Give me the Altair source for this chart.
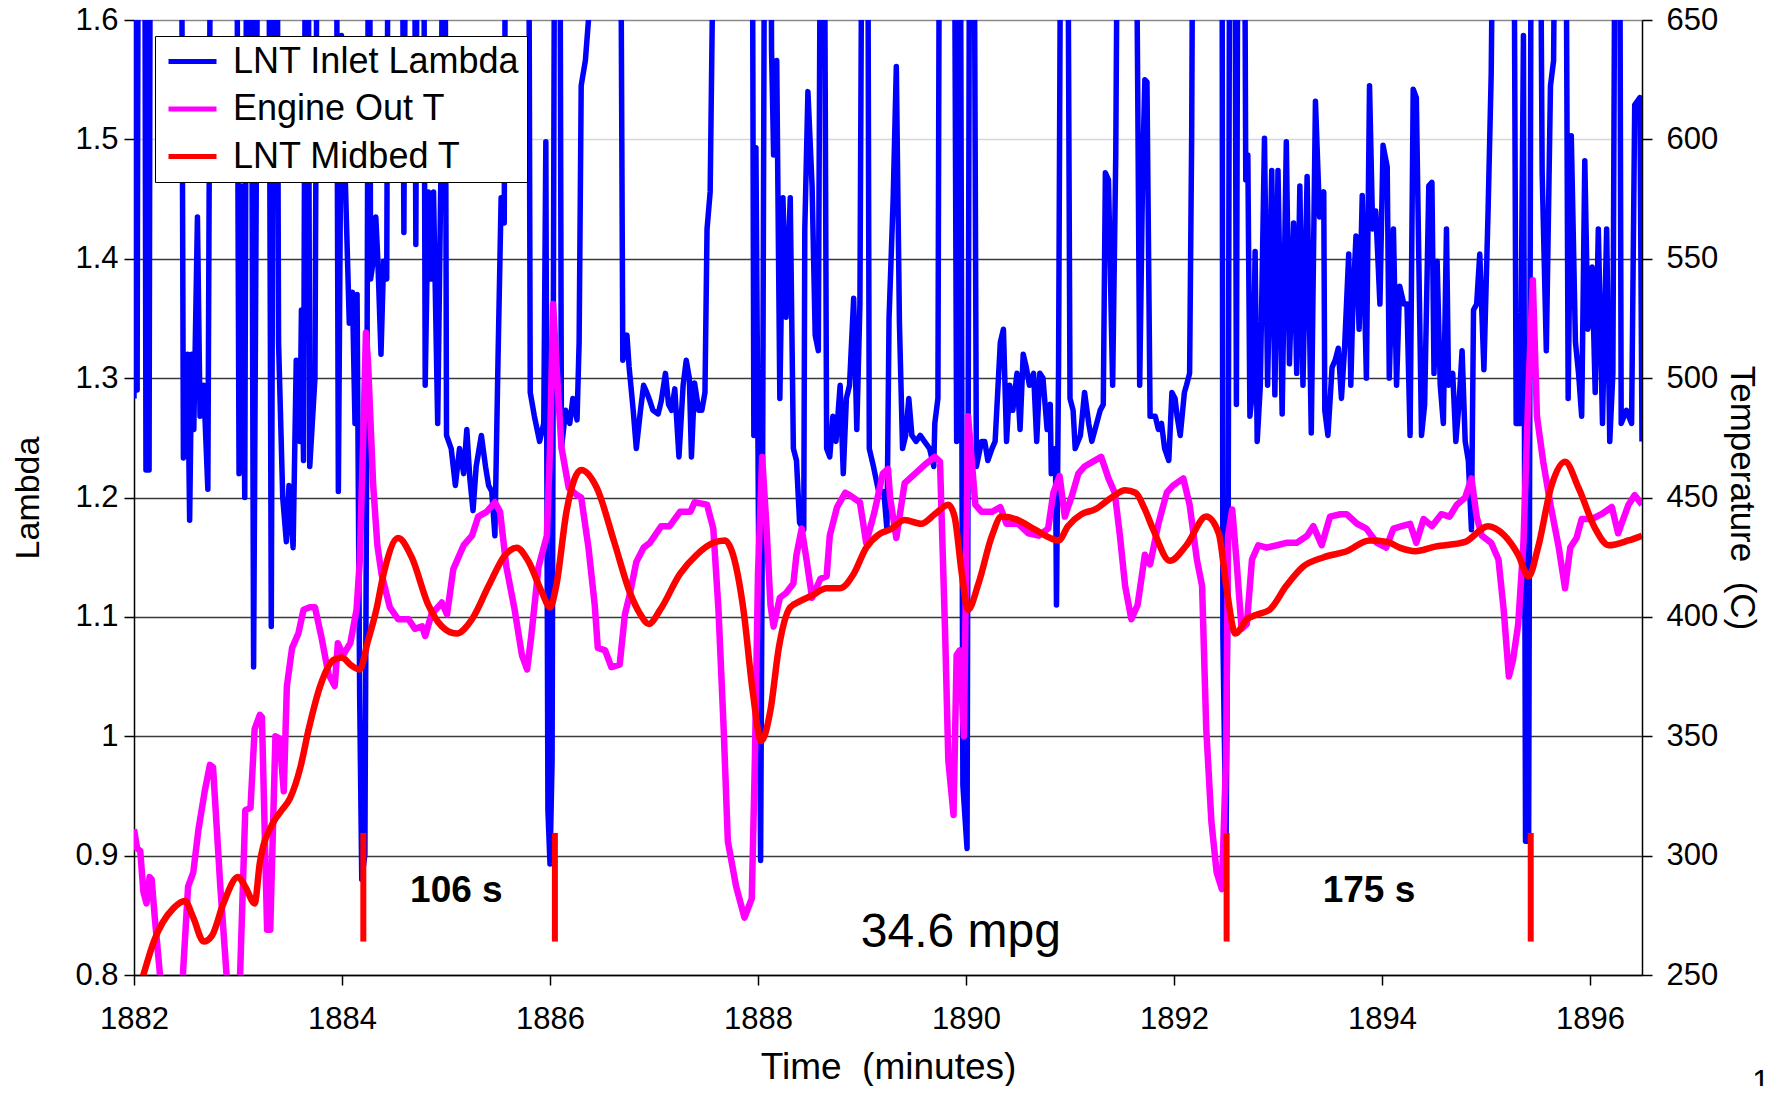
import altair as alt
import pandas as pd

FONT = "Liberation Sans"
SERIES = ["LNT Inlet Lambda", "Engine Out T", "LNT Midbed T"]
COLORS = ["#0000FF", "#FF00FF", "#FF0000"]

x_ticks = [1882, 1884, 1886, 1888, 1890, 1892, 1894, 1896]
lambda_ticks = [0.8, 0.9, 1.0, 1.1, 1.2, 1.3, 1.4, 1.5, 1.6]
temp_ticks = [250, 300, 350, 400, 450, 500, 550, 600, 650]

# LNT inlet lambda (values above 1.6 run off the top of the plot)
lambda_points = [
    (1882.00, 1.283), (1882.015, 1.9), (1882.03, 1.29), (1882.045, 1.9), (1882.10, 1.9),
    (1882.115, 1.223), (1882.145, 1.223), (1882.16, 1.9), (1882.45, 1.9), (1882.475, 1.233),
    (1882.50, 1.247), (1882.515, 1.32), (1882.535, 1.181), (1882.555, 1.32), (1882.575, 1.257),
    (1882.61, 1.435), (1882.635, 1.268), (1882.67, 1.294), (1882.71, 1.207), (1882.745, 1.9),
    (1882.98, 1.9), (1883.01, 1.22), (1883.035, 1.461), (1883.065, 1.2), (1883.09, 1.9),
    (1883.12, 1.9), (1883.15, 1.058), (1883.175, 1.451), (1883.20, 1.9), (1883.29, 1.9),
    (1883.32, 1.092), (1883.35, 1.9), (1883.37, 1.9), (1883.39, 1.33), (1883.43, 1.2),
    (1883.465, 1.163), (1883.49, 1.21), (1883.53, 1.158), (1883.56, 1.315), (1883.595, 1.247),
    (1883.61, 1.357), (1883.63, 1.231), (1883.655, 1.9), (1883.67, 1.9), (1883.69, 1.226),
    (1883.74, 1.3), (1883.77, 1.9), (1883.94, 1.9), (1883.965, 1.205), (1883.995, 1.587),
    (1884.04, 1.44), (1884.07, 1.346), (1884.10, 1.372), (1884.125, 1.262), (1884.145, 1.37),
    (1884.17, 1.032), (1884.19, 0.880), (1884.22, 0.901), (1884.24, 1.283), (1884.26, 1.9),
    (1884.275, 1.383), (1884.30, 1.398), (1884.325, 1.435), (1884.345, 1.398), (1884.375, 1.32),
    (1884.40, 1.398), (1884.43, 1.383), (1884.45, 1.9), (1884.57, 1.9), (1884.595, 1.422),
    (1884.62, 1.9), (1884.69, 1.9), (1884.71, 1.412), (1884.73, 1.9), (1884.78, 1.9),
    (1884.80, 1.294), (1884.83, 1.456), (1884.855, 1.383), (1884.88, 1.456), (1884.92, 1.262),
    (1884.95, 1.466), (1884.985, 1.9), (1885.005, 1.252), (1885.05, 1.241), (1885.09, 1.21),
    (1885.13, 1.241), (1885.17, 1.22), (1885.20, 1.257), (1885.23, 1.215), (1885.26, 1.189),
    (1885.29, 1.226), (1885.34, 1.252), (1885.38, 1.226), (1885.41, 1.21), (1885.44, 1.205),
    (1885.47, 1.168), (1885.50, 1.315), (1885.53, 1.451), (1885.56, 1.43), (1885.58, 1.9),
    (1885.79, 1.9), (1885.81, 1.288), (1885.85, 1.268), (1885.90, 1.247), (1885.94, 1.262),
    (1885.96, 1.498), (1885.98, 0.938), (1886.00, 0.893), (1886.02, 0.979), (1886.05, 1.9),
    (1886.09, 1.9), (1886.11, 1.241), (1886.15, 1.273), (1886.19, 1.262), (1886.22, 1.283),
    (1886.26, 1.265), (1886.28, 1.330), (1886.30, 1.545), (1886.34, 1.566), (1886.37, 1.6),
    (1886.38, 1.9), (1886.67, 1.9), (1886.70, 1.315), (1886.74, 1.336), (1886.76, 1.31),
    (1886.80, 1.273), (1886.83, 1.241), (1886.87, 1.273), (1886.90, 1.294), (1886.93, 1.288),
    (1886.96, 1.281), (1886.99, 1.273), (1887.04, 1.27), (1887.07, 1.281), (1887.11, 1.304),
    (1887.14, 1.278), (1887.17, 1.273), (1887.20, 1.291), (1887.24, 1.234), (1887.28, 1.294),
    (1887.31, 1.315), (1887.34, 1.3), (1887.36, 1.234), (1887.39, 1.296), (1887.43, 1.273),
    (1887.46, 1.273), (1887.49, 1.288), (1887.51, 1.425), (1887.54, 1.456), (1887.56, 1.6),
    (1887.57, 1.9), (1887.94, 1.9), (1887.96, 1.252), (1887.98, 1.493), (1888.00, 1.241),
    (1888.025, 0.896), (1888.045, 1.241), (1888.07, 1.9), (1888.12, 1.9), (1888.13, 1.576),
    (1888.15, 1.487), (1888.18, 1.566), (1888.21, 1.283), (1888.24, 1.451), (1888.27, 1.351),
    (1888.31, 1.451), (1888.34, 1.241), (1888.37, 1.231), (1888.40, 1.179), (1888.44, 1.173),
    (1888.45, 1.425), (1888.48, 1.54), (1888.52, 1.461), (1888.55, 1.336), (1888.58, 1.323),
    (1888.61, 1.9), (1888.63, 1.9), (1888.66, 1.241), (1888.69, 1.234), (1888.72, 1.268),
    (1888.75, 1.247), (1888.79, 1.294), (1888.82, 1.22), (1888.85, 1.283), (1888.88, 1.294),
    (1888.92, 1.367), (1888.95, 1.257), (1888.98, 1.362), (1889.01, 1.9), (1889.05, 1.9),
    (1889.07, 1.241), (1889.11, 1.226), (1889.16, 1.205), (1889.21, 1.205), (1889.24, 1.173),
    (1889.26, 1.35), (1889.30, 1.451), (1889.33, 1.561), (1889.36, 1.346), (1889.39, 1.241),
    (1889.42, 1.252), (1889.45, 1.283), (1889.48, 1.252), (1889.52, 1.247), (1889.56, 1.252),
    (1889.60, 1.247), (1889.65, 1.241), (1889.69, 1.226), (1889.70, 1.262), (1889.73, 1.283),
    (1889.75, 1.9), (1889.88, 1.9), (1889.91, 1.247), (1889.94, 1.9), (1889.97, 0.959),
    (1890.01, 0.906), (1890.04, 1.9), (1890.07, 1.9), (1890.10, 1.226), (1890.15, 1.247),
    (1890.18, 1.247), (1890.21, 1.231), (1890.25, 1.241), (1890.28, 1.247), (1890.33, 1.33),
    (1890.36, 1.341), (1890.39, 1.247), (1890.42, 1.294), (1890.45, 1.273), (1890.49, 1.304),
    (1890.52, 1.257), (1890.55, 1.32), (1890.58, 1.309), (1890.61, 1.294), (1890.65, 1.304),
    (1890.68, 1.247), (1890.71, 1.304), (1890.74, 1.3), (1890.78, 1.257), (1890.81, 1.278),
    (1890.82, 1.22), (1890.86, 1.241), (1890.87, 1.11), (1890.89, 1.309), (1890.92, 1.9),
    (1890.97, 1.9), (1891.00, 1.283), (1891.03, 1.273), (1891.05, 1.241), (1891.10, 1.252),
    (1891.14, 1.288), (1891.18, 1.262), (1891.21, 1.247), (1891.25, 1.26), (1891.29, 1.273),
    (1891.32, 1.278), (1891.34, 1.472), (1891.37, 1.466), (1891.41, 1.294), (1891.44, 1.487),
    (1891.47, 1.9), (1891.62, 1.9), (1891.65, 1.555), (1891.67, 1.294), (1891.70, 1.48),
    (1891.72, 1.55), (1891.74, 1.548), (1891.77, 1.268), (1891.82, 1.268), (1891.85, 1.257),
    (1891.88, 1.262), (1891.91, 1.241), (1891.95, 1.231), (1891.98, 1.288), (1892.01, 1.283),
    (1892.03, 1.268), (1892.06, 1.252), (1892.10, 1.288), (1892.12, 1.294), (1892.15, 1.304),
    (1892.17, 1.503), (1892.19, 1.9), (1892.46, 1.9), (1892.47, 1.084), (1892.50, 0.906),
    (1892.52, 1.137), (1892.54, 1.9), (1892.58, 1.9), (1892.60, 1.278), (1892.62, 1.9),
    (1892.67, 1.9), (1892.69, 1.466), (1892.71, 1.487), (1892.73, 1.268), (1892.76, 1.294),
    (1892.78, 1.406), (1892.80, 1.247), (1892.83, 1.294), (1892.87, 1.501), (1892.90, 1.294),
    (1892.94, 1.474), (1892.97, 1.286), (1893.00, 1.474), (1893.04, 1.27), (1893.08, 1.498),
    (1893.11, 1.312), (1893.15, 1.43), (1893.18, 1.304), (1893.21, 1.461), (1893.24, 1.294),
    (1893.28, 1.469), (1893.32, 1.254), (1893.36, 1.532), (1893.40, 1.435), (1893.44, 1.456),
    (1893.45, 1.273), (1893.48, 1.252), (1893.52, 1.309), (1893.55, 1.315), (1893.58, 1.325),
    (1893.61, 1.283), (1893.64, 1.325), (1893.68, 1.404), (1893.70, 1.294), (1893.72, 1.362),
    (1893.75, 1.419), (1893.78, 1.341), (1893.81, 1.453), (1893.85, 1.3), (1893.88, 1.545),
    (1893.91, 1.425), (1893.94, 1.44), (1893.98, 1.362), (1894.01, 1.495), (1894.05, 1.477),
    (1894.07, 1.3), (1894.11, 1.425), (1894.14, 1.294), (1894.17, 1.377), (1894.21, 1.362),
    (1894.24, 1.362), (1894.27, 1.252), (1894.30, 1.542), (1894.33, 1.535), (1894.38, 1.252),
    (1894.41, 1.278), (1894.45, 1.461), (1894.48, 1.464), (1894.50, 1.304), (1894.53, 1.398),
    (1894.56, 1.294), (1894.59, 1.262), (1894.62, 1.425), (1894.64, 1.294), (1894.68, 1.304),
    (1894.71, 1.247), (1894.74, 1.278), (1894.77, 1.323), (1894.80, 1.247), (1894.83, 1.231),
    (1894.86, 1.173), (1894.88, 1.357), (1894.91, 1.362), (1894.94, 1.404), (1894.98, 1.307),
    (1895.02, 1.44), (1895.05, 1.555), (1895.09, 1.9), (1895.26, 1.9), (1895.29, 1.262),
    (1895.33, 1.262), (1895.36, 1.587), (1895.38, 0.912), (1895.41, 0.912), (1895.44, 1.9),
    (1895.51, 1.9), (1895.54, 1.472), (1895.58, 1.323), (1895.62, 1.545), (1895.65, 1.566),
    (1895.68, 1.9), (1895.76, 1.9), (1895.79, 1.283), (1895.82, 1.503), (1895.86, 1.33),
    (1895.89, 1.304), (1895.92, 1.268), (1895.95, 1.482), (1895.98, 1.341), (1896.02, 1.393),
    (1896.05, 1.288), (1896.08, 1.425), (1896.12, 1.262), (1896.16, 1.425), (1896.19, 1.247),
    (1896.22, 1.304), (1896.25, 1.9), (1896.28, 1.9), (1896.30, 1.262), (1896.35, 1.273),
    (1896.40, 1.262), (1896.43, 1.529), (1896.48, 1.535), (1896.50, 1.247),
]

# Engine out temperature (C)
engine_points = [
    (1882.00, 311), (1882.03, 303), (1882.06, 302), (1882.09, 285), (1882.12, 280),
    (1882.15, 291), (1882.17, 290), (1882.20, 274), (1882.25, 250), (1882.30, 225),
    (1882.42, 225), (1882.47, 250), (1882.52, 287), (1882.57, 293), (1882.62, 311),
    (1882.68, 327), (1882.73, 338), (1882.76, 337), (1882.83, 287), (1882.89, 250),
    (1882.93, 230), (1882.98, 230), (1883.02, 250), (1883.07, 319), (1883.12, 320),
    (1883.16, 353), (1883.21, 359), (1883.23, 358), (1883.28, 269), (1883.31, 269),
    (1883.36, 350), (1883.40, 349), (1883.44, 327), (1883.47, 371), (1883.52, 387),
    (1883.58, 393), (1883.63, 403), (1883.69, 404), (1883.74, 404), (1883.80, 392),
    (1883.87, 376), (1883.93, 371), (1883.96, 389), (1884.01, 384), (1884.08, 389),
    (1884.14, 403), (1884.17, 423), (1884.21, 484), (1884.23, 519), (1884.25, 507),
    (1884.30, 455), (1884.34, 430), (1884.38, 418), (1884.46, 404), (1884.54, 399),
    (1884.64, 399), (1884.70, 395), (1884.77, 396), (1884.80, 392), (1884.86, 401),
    (1884.96, 406), (1885.01, 401), (1885.07, 420), (1885.17, 430), (1885.25, 434),
    (1885.31, 442), (1885.39, 444), (1885.47, 448), (1885.52, 444), (1885.58, 421),
    (1885.66, 403), (1885.73, 384), (1885.78, 378), (1885.82, 392), (1885.89, 421),
    (1885.97, 434), (1886.00, 471), (1886.03, 531), (1886.06, 507), (1886.11, 471),
    (1886.18, 454), (1886.26, 451), (1886.30, 450), (1886.37, 429), (1886.43, 405),
    (1886.46, 387), (1886.53, 386), (1886.59, 379), (1886.67, 380), (1886.72, 401),
    (1886.77, 410), (1886.83, 423), (1886.90, 429), (1886.96, 431), (1887.07, 438),
    (1887.15, 438), (1887.25, 444), (1887.35, 444), (1887.39, 448), (1887.51, 447),
    (1887.57, 437), (1887.62, 403), (1887.67, 353), (1887.71, 306), (1887.79, 287),
    (1887.87, 274), (1887.94, 282), (1887.97, 340), (1888.00, 418), (1888.04, 467),
    (1888.08, 439), (1888.12, 405), (1888.15, 396), (1888.21, 408), (1888.27, 410),
    (1888.34, 414), (1888.37, 426), (1888.42, 437), (1888.47, 423), (1888.52, 408),
    (1888.60, 416), (1888.66, 417), (1888.69, 434), (1888.76, 446), (1888.84, 452),
    (1888.88, 451), (1888.98, 448), (1889.04, 431), (1889.12, 444), (1889.20, 460),
    (1889.25, 462), (1889.27, 450), (1889.33, 433), (1889.41, 456), (1889.51, 460),
    (1889.61, 464), (1889.70, 467), (1889.75, 465), (1889.80, 392), (1889.83, 340),
    (1889.88, 317), (1889.91, 384), (1889.94, 386), (1889.98, 350), (1890.02, 484),
    (1890.09, 447), (1890.15, 444), (1890.25, 444), (1890.33, 446), (1890.39, 439),
    (1890.50, 439), (1890.60, 435), (1890.70, 434), (1890.79, 437), (1890.84, 452),
    (1890.90, 459), (1890.95, 442), (1891.02, 451), (1891.08, 460), (1891.14, 463),
    (1891.22, 465), (1891.30, 467), (1891.37, 458), (1891.43, 452), (1891.48, 434),
    (1891.53, 413), (1891.59, 399), (1891.65, 405), (1891.72, 426), (1891.77, 422),
    (1891.85, 439), (1891.93, 452), (1891.99, 455), (1892.09, 458), (1892.15, 447),
    (1892.22, 424), (1892.27, 413), (1892.31, 353), (1892.36, 314), (1892.41, 293),
    (1892.46, 286), (1892.50, 340), (1892.52, 434), (1892.56, 445), (1892.60, 424),
    (1892.65, 395), (1892.70, 397), (1892.75, 424), (1892.81, 430), (1892.89, 429),
    (1892.99, 430), (1893.08, 431), (1893.18, 431), (1893.28, 434), (1893.34, 438),
    (1893.42, 430), (1893.50, 442), (1893.60, 443), (1893.66, 443), (1893.76, 439),
    (1893.85, 437), (1893.95, 431), (1894.04, 429), (1894.11, 437), (1894.19, 438),
    (1894.27, 439), (1894.33, 431), (1894.40, 441), (1894.48, 438), (1894.57, 443),
    (1894.65, 442), (1894.72, 447), (1894.80, 450), (1894.86, 458), (1894.91, 442),
    (1894.96, 434), (1895.05, 431), (1895.12, 424), (1895.17, 403), (1895.22, 375),
    (1895.26, 382), (1895.31, 397), (1895.36, 431), (1895.41, 497), (1895.45, 541),
    (1895.49, 484), (1895.55, 465), (1895.62, 447), (1895.70, 429), (1895.76, 412),
    (1895.81, 429), (1895.87, 433), (1895.92, 441), (1896.02, 441), (1896.11, 443),
    (1896.21, 446), (1896.27, 435), (1896.37, 447), (1896.43, 451), (1896.50, 447),
]

# LNT midbed temperature (C)
midbed_points = [
    (1882.00, 237), (1882.09, 250), (1882.19, 264), (1882.38, 278), (1882.49, 281),
    (1882.57, 274), (1882.67, 264), (1882.75, 266.5), (1882.86, 280), (1883.00, 291),
    (1883.07, 287), (1883.16, 280), (1883.21, 297), (1883.34, 314), (1883.42, 319),
    (1883.50, 324), (1883.60, 337), (1883.68, 353), (1883.79, 371), (1883.92, 382),
    (1884.00, 383), (1884.08, 380), (1884.17, 378), (1884.25, 390), (1884.33, 403),
    (1884.40, 418), (1884.54, 433), (1884.67, 425), (1884.83, 405), (1884.96, 396),
    (1885.10, 393), (1885.25, 399), (1885.41, 413), (1885.57, 426), (1885.68, 429),
    (1885.79, 423.5), (1885.92, 410.5), (1886.00, 404), (1886.06, 413), (1886.16, 444.5),
    (1886.30, 461.5), (1886.45, 454), (1886.62, 431), (1886.77, 410), (1886.87, 401),
    (1886.95, 397), (1887.06, 403), (1887.25, 418), (1887.41, 426), (1887.57, 431),
    (1887.68, 432), (1887.76, 426), (1887.86, 403), (1887.95, 368.5), (1888.03, 348),
    (1888.12, 361), (1888.20, 387), (1888.31, 404), (1888.40, 406.5), (1888.52, 409),
    (1888.66, 412), (1888.79, 412), (1888.92, 418), (1889.04, 429), (1889.16, 434.5),
    (1889.27, 436.6), (1889.41, 440.6), (1889.57, 439), (1889.70, 443), (1889.83, 447),
    (1889.89, 442), (1889.96, 418), (1890.02, 403), (1890.12, 414), (1890.25, 434),
    (1890.34, 442), (1890.50, 440.6), (1890.66, 436.6), (1890.89, 432), (1890.98, 438),
    (1891.11, 443), (1891.24, 445), (1891.40, 450), (1891.53, 453), (1891.63, 452),
    (1891.72, 445), (1891.80, 436.6), (1891.96, 423.5), (1892.12, 430), (1892.31, 442),
    (1892.43, 435), (1892.51, 410.5), (1892.59, 393), (1892.70, 399), (1892.80, 401),
    (1892.92, 403), (1893.08, 413), (1893.24, 421), (1893.44, 425), (1893.66, 427.5),
    (1893.88, 432), (1894.05, 431.4), (1894.17, 429), (1894.32, 427.5), (1894.51, 429.4),
    (1894.80, 431.4), (1895.02, 438), (1895.18, 434), (1895.31, 426), (1895.41, 417),
    (1895.50, 429), (1895.63, 455), (1895.76, 465), (1895.89, 454), (1896.05, 437),
    (1896.18, 430), (1896.37, 432), (1896.50, 434),
]

# regeneration markers (lambda scale)
regen_time = [1884.205, 1886.047, 1892.506, 1895.43]
regen_low = 0.828
regen_high = 0.919

note_text = ["106 s", "175 s"]
note_time = [1885.10, 1893.875]
note_lambda = [0.870, 0.870]

mpg_text = ["34.6 mpg"]
mpg_time = [1889.95]
mpg_lambda = [0.835]

page_text = ["12"]
page_time = [1897.56]
page_lambda = [0.722]

NB = "\u00a0"
x_title = "Time" + NB + NB + "(minutes)"
t_title = "Temperature" + NB + NB + "(C)"

# ---------------------------------------------------------------- tables
df_lambda = pd.DataFrame({"time": [p[0] for p in lambda_points],
                          "value": [p[1] for p in lambda_points],
                          "series": SERIES[0]})
df_engine = pd.DataFrame({"time": [p[0] for p in engine_points],
                          "value": [p[1] for p in engine_points],
                          "series": SERIES[1]})
df_midbed = pd.DataFrame({"time": [p[0] for p in midbed_points],
                          "value": [p[1] for p in midbed_points],
                          "series": SERIES[2]})
df_regen = pd.DataFrame({"time": regen_time, "lo": regen_low, "hi": regen_high})
df_notes = pd.DataFrame({"time": note_time, "value": note_lambda, "label": note_text})
df_mpg = pd.DataFrame({"time": mpg_time, "value": mpg_lambda, "label": mpg_text})
df_page = pd.DataFrame({"time": page_time, "value": page_lambda, "label": page_text})

# ---------------------------------------------------------------- scales / axes
x_scale = alt.Scale(domain=[1882, 1896.5], nice=False, zero=False)
lam_scale = alt.Scale(domain=[0.8, 1.6], nice=False, zero=False)
t_scale = alt.Scale(domain=[250, 650], nice=False, zero=False)
color_scale = alt.Scale(domain=SERIES, range=COLORS)

common_axis = dict(
    labelFont=FONT, labelFontSize=31, labelColor="black",
    titleFont=FONT, titleFontWeight="normal", titleColor="black",
    domainColor="black", domainWidth=1.5, tickColor="black", tickWidth=1.5,
    tickSize=10, labelFlush=False, labelOverlap=False,
)

x_axis = alt.Axis(values=x_ticks, format="d", title=x_title, grid=False,
                  labelPadding=19, titleFontSize=37, titleX=754, titleY=92,
                  titleAlign="center", titleBaseline="middle", **common_axis)

lam_axis = alt.Axis(
    orient="left", values=lambda_ticks, format="~g", title="Lambda", grid=True,
    gridColor={"condition": [
        {"test": "abs(datum.value - 1.5) < 0.001", "value": "#d6d6d6"},
        {"test": "abs(datum.value - 1.6) < 0.001", "value": "#8a8a8a"}],
        "value": "#3a3a3a"},
    gridWidth=1.3, labelPadding=6, titleFontSize=34, titleX=-106, titleY=477.5,
    titleAngle=270, titleAlign="center", titleBaseline="middle", **common_axis)

t_axis = alt.Axis(
    orient="right", values=temp_ticks, format="d", title=t_title, grid=False,
    labelPadding=14, titleFontSize=35, titleX=99, titleY=477.5, titleAngle=90,
    titleAlign="center", titleBaseline="middle", **common_axis)

legend = alt.Legend(
    title=None, orient="none", legendX=21, legendY=16, direction="vertical",
    symbolType="M-1,0H3", symbolSize=576, symbolStrokeWidth=5,
    labelFont=FONT, labelFontSize=36, labelColor="black", labelOffset=34.5, labelLimit=600,
    padding=7.5, rowPadding=11.5, fillColor="white", strokeColor="black",
)

X = alt.X("time:Q", scale=x_scale, axis=x_axis)
Y_LAM = alt.Y("value:Q", scale=lam_scale, axis=lam_axis)
Y_T = alt.Y("value:Q", scale=t_scale, axis=t_axis)
COLOR = alt.Color("series:N", scale=color_scale, legend=legend)

blue = alt.Chart(df_lambda).mark_line(strokeWidth=5.5, clip=True, strokeJoin="round").encode(
    x=X, y=Y_LAM, color=COLOR)

magenta = alt.Chart(df_engine).mark_line(strokeWidth=6.5, clip=True, strokeJoin="round").encode(
    x=X, y=Y_T, color=COLOR)
red = alt.Chart(df_midbed).mark_line(strokeWidth=6.5, clip=True, strokeJoin="round",
                                     interpolate="monotone").encode(
    x=X, y=Y_T, color=COLOR)
temps = alt.layer(magenta, red)

markers = alt.Chart(df_regen).mark_rule(color="#FF0000", strokeWidth=6).encode(
    x=X, y=alt.Y("lo:Q", scale=lam_scale, axis=None), y2="hi:Q")
notes = alt.Chart(df_notes).mark_text(font=FONT, fontSize=37, fontWeight="bold", color="black",
                                      align="center", baseline="middle").encode(
    x=X, y=alt.Y("value:Q", scale=lam_scale, axis=None), text="label:N")
mpg = alt.Chart(df_mpg).mark_text(font=FONT, fontSize=48, color="black",
                                  align="center", baseline="middle").encode(
    x=X, y=alt.Y("value:Q", scale=lam_scale, axis=None), text="label:N")
page = alt.Chart(df_page).mark_text(font=FONT, fontSize=31, color="black",
                                    align="left", baseline="top", clip=False).encode(
    x=X, y=alt.Y("value:Q", scale=lam_scale, axis=None), text="label:N")
annot = alt.layer(markers, notes, mpg, page)

chart = alt.layer(blue, temps, annot).resolve_scale(y="independent").properties(
    width=1508, height=955,
    autosize=alt.AutoSizeParams(type="none"),
    padding={"left": 126, "top": 12, "right": 123, "bottom": 111},
    background="white",
).configure_view(strokeWidth=0).configure(font=FONT)

chart.save("out.html", embed_options={"renderer": "svg", "actions": False})
